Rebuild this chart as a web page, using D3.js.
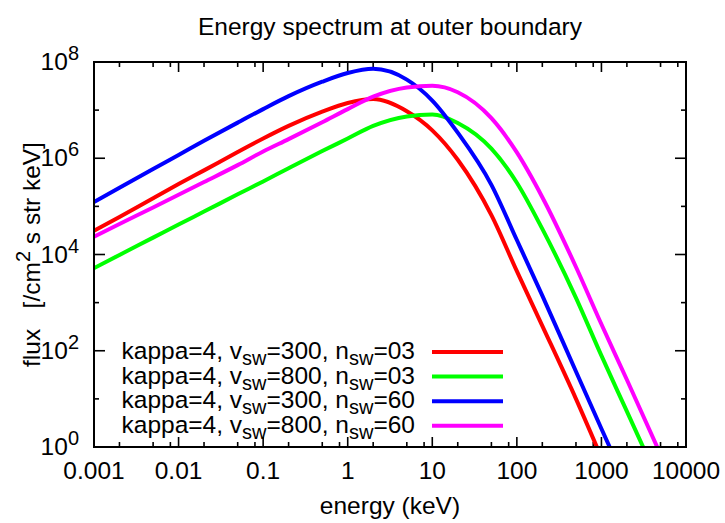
<!DOCTYPE html>
<html>
<head>
<meta charset="utf-8">
<script src="https://cdn.jsdelivr.net/npm/d3@7"></script>
<style>
body { margin: 0; background: #fff; }
text { font-family: "Liberation Sans", Arial, Helvetica, sans-serif; fill: #000; }
</style>
</head>
<body>
<div id="chart"></div>
<script>
// energies (keV), shared by every series
var energies = [0.001, 0.002, 0.005, 0.01, 0.02, 0.05, 0.1, 0.2, 0.5, 1, 2, 5, 10, 20, 50, 100, 200, 500, 1000, 2000, 5000];
var fluxV300N03 = [3.1e4, 6.0e4, 1.48e5, 2.9e5, 5.6e5, 1.35e6, 2.57e6, 4.7e6, 9.3e6, 1.41e7, 1.7e7, 9.5e6, 3.8e6, 9.3e5, 6.6e4, 4.5e3, 330, 10, 0.6, null, null];
var fluxV800N03 = [5.2e3, 9.8e3, 2.24e4, 4.2e4, 7.8e4, 1.78e5, 3.3e5, 6.2e5, 1.41e6, 2.57e6, 4.7e6, 7.4e6, 8.1e6, 5.4e6, 1.58e6, 3.1e5, 3.4e4, 1.26e3, 79, 5.5, 0.16];
var fluxV300N60 = [1.23e5, 2.45e5, 6.0e5, 1.17e6, 2.3e6, 5.5e6, 1.05e7, 1.95e7, 3.9e7, 5.9e7, 7.2e7, 4.3e7, 1.58e7, 3.4e6, 2.8e5, 2.0e4, 1.4e3, 37, 2.4, 0.16, null];
var fluxV800N60 = [2.35e4, 4.3e4, 9.5e4, 1.74e5, 3.2e5, 7.2e5, 1.38e6, 2.5e6, 5.6e6, 1.05e7, 1.9e7, 2.95e7, 3.2e7, 2.35e7, 6.8e6, 1.32e6, 1.55e5, 5.5e3, 355, 25, 0.7];

var seriesFlux = [fluxV300N03, fluxV800N03, fluxV300N60, fluxV800N60];
var seriesColors = ['#ff0000', '#00ff00', '#0000ff', '#ff00ff'];
var legendKappa = ['4', '4', '4', '4'];
var legendV = ['300', '800', '300', '800'];
var legendN = ['03', '03', '60', '60'];

var xMajorTicks = [0.001, 0.01, 0.1, 1, 10, 100, 1000, 10000];
var xTickLabels = ['0.001', '0.01', '0.1', '1', '10', '100', '1000', '10000'];
var xMinorFactors = [2, 5, 8];
var yMajorTicks = [1, 1e2, 1e4, 1e6, 1e8];
var yTickExponents = ['0', '2', '4', '6', '8'];
var yMinorTicks = [10, 1e3, 1e5, 1e7];

var width = 725, height = 523;
var plotLeft = 94, plotRight = 686, plotTop = 62, plotBottom = 447;
var fontSize = 24.5, smallSize = 20;

var svg = d3.select('#chart')
    .append('svg')
    .attr('width', width)
    .attr('height', height);

var xScale = d3.scaleLog().domain([0.001, 10000]).range([plotLeft, plotRight]);
var yScale = d3.scaleLog().domain([1, 1e8]).range([plotBottom, plotTop]);

svg.append('defs').append('clipPath')
    .attr('id', 'plotClip')
    .append('rect')
    .attr('x', plotLeft)
    .attr('y', plotTop)
    .attr('width', plotRight - plotLeft)
    .attr('height', plotBottom - plotTop);

// ticks, mirrored on all four sides and pointing inwards
var xMinorTicks = [];
xMajorTicks.slice(0, -1).forEach(function (d) {
    xMinorFactors.forEach(function (f) { xMinorTicks.push(d * f); });
});

var tickGroup = svg.append('g')
    .attr('stroke', '#000')
    .attr('stroke-width', 1.6);

function drawXTicks(values, len) {
    values.forEach(function (v) {
        var px = xScale(v);
        tickGroup.append('line').attr('x1', px).attr('x2', px).attr('y1', plotBottom).attr('y2', plotBottom - len);
        tickGroup.append('line').attr('x1', px).attr('x2', px).attr('y1', plotTop).attr('y2', plotTop + len);
    });
}
function drawYTicks(values, len) {
    values.forEach(function (v) {
        var py = yScale(v);
        tickGroup.append('line').attr('x1', plotLeft).attr('x2', plotLeft + len).attr('y1', py).attr('y2', py);
        tickGroup.append('line').attr('x1', plotRight).attr('x2', plotRight - len).attr('y1', py).attr('y2', py);
    });
}
drawXTicks(xMajorTicks, 10);
drawXTicks(xMinorTicks, 5);
drawYTicks(yMajorTicks, 11);
drawYTicks(yMinorTicks, 5);

// x tick labels
svg.selectAll('.xlabel')
    .data(xMajorTicks)
    .enter().append('text')
    .attr('class', 'xlabel')
    .attr('x', function (d) { return xScale(d); })
    .attr('y', plotBottom + 32)
    .attr('text-anchor', 'middle')
    .attr('font-size', fontSize)
    .text(function (d, i) { return xTickLabels[i]; });

// y tick labels: 10 with a raised exponent
var yLabels = svg.selectAll('.ylabel')
    .data(yMajorTicks)
    .enter().append('text')
    .attr('class', 'ylabel')
    .attr('x', 79)
    .attr('y', function (d) { return yScale(d) + 8; })
    .attr('text-anchor', 'end')
    .attr('font-size', fontSize);
yLabels.append('tspan').text('10');
yLabels.append('tspan')
    .attr('font-size', smallSize)
    .attr('dy', -10)
    .text(function (d, i) { return yTickExponents[i]; });

// curves
var line = d3.line()
    .defined(function (d) { return d[1] !== null; })
    .x(function (d) { return xScale(d[0]); })
    .y(function (d) { return yScale(d[1]); })
    .curve(d3.curveMonotoneX);

var curves = svg.append('g').attr('clip-path', 'url(#plotClip)');
seriesFlux.forEach(function (flux, i) {
    var pts = energies.map(function (e, j) { return [e, flux[j]]; });
    curves.append('path')
        .attr('d', line(pts))
        .attr('fill', 'none')
        .attr('stroke', seriesColors[i])
        .attr('stroke-width', 4)
        .attr('stroke-linejoin', 'round');
});

// border
svg.append('rect')
    .attr('x', plotLeft)
    .attr('y', plotTop)
    .attr('width', plotRight - plotLeft)
    .attr('height', plotBottom - plotTop)
    .attr('fill', 'none')
    .attr('stroke', '#000')
    .attr('stroke-width', 2);

// legend
var legendTop = 352, legendStep = 24.6;
seriesFlux.forEach(function (flux, i) {
    var ly = legendTop + i * legendStep;
    var t = svg.append('text')
        .attr('x', 415)
        .attr('y', ly + 7)
        .attr('text-anchor', 'end')
        .attr('font-size', fontSize);
    t.append('tspan').text('kappa=' + legendKappa[i] + ', v');
    t.append('tspan').attr('font-size', smallSize).attr('dy', 6).text('sw');
    t.append('tspan').attr('dy', -6).text('=' + legendV[i] + ', n');
    t.append('tspan').attr('font-size', smallSize).attr('dy', 6).text('sw');
    t.append('tspan').attr('dy', -6).text('=' + legendN[i]);
    svg.append('line')
        .attr('x1', 432).attr('x2', 503)
        .attr('y1', ly).attr('y2', ly)
        .attr('stroke', seriesColors[i])
        .attr('stroke-width', 4);
});

// titles
svg.append('text')
    .attr('x', (plotLeft + plotRight) / 2)
    .attr('y', 35)
    .attr('text-anchor', 'middle')
    .attr('font-size', fontSize)
    .text('Energy spectrum at outer boundary');

svg.append('text')
    .attr('x', (plotLeft + plotRight) / 2)
    .attr('y', 514)
    .attr('text-anchor', 'middle')
    .attr('font-size', fontSize)
    .text('energy (keV)');

var yTitle = svg.append('text')
    .attr('transform', 'translate(40,' + (plotTop + plotBottom) / 2 + ') rotate(-90)')
    .attr('text-anchor', 'middle')
    .attr('font-size', fontSize)
    .attr('xml:space', 'preserve');
yTitle.append('tspan').text('flux   [/cm');
yTitle.append('tspan').attr('font-size', smallSize).attr('dy', -10).text('2');
yTitle.append('tspan').attr('dy', 10).text(' s str keV]');
</script>
</body>
</html>
